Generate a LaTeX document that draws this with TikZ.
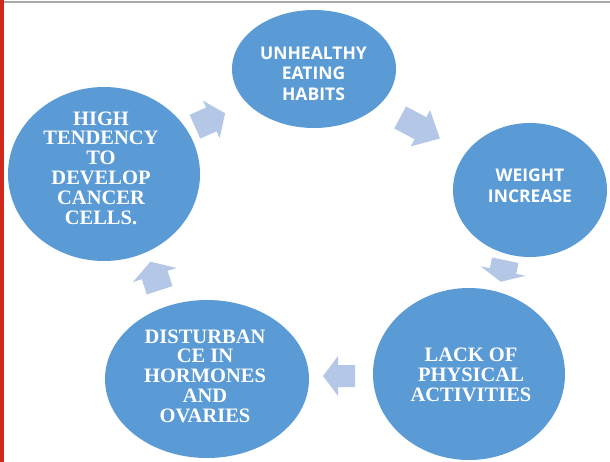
\documentclass[tikz,border=0pt]{standalone}
\usepackage{fontspec}
\setmainfont{Liberation Serif}
\newfontfamily\osans{Open Sans}
\usetikzlibrary{shapes.geometric}
\definecolor{cblue}{HTML}{5B9BD5}
\definecolor{ablue}{HTML}{B4C7E7}
\definecolor{redbar}{HTML}{D0281A}
\definecolor{topgray}{HTML}{A8A8A8}
\tikzset{
  bubble/.style={ellipse, fill=cblue, draw=none, inner sep=0pt},
  sanslabel/.style={text=white, align=center, inner sep=0pt,
    font=\osans\bfseries\fontsize{17.5}{20.5}\selectfont},
  seriflabel/.style={text=white, align=center, inner sep=0pt,
    font=\bfseries\fontsize{20.5}{19.8}\selectfont},
  arrowfill/.style={fill=ablue, draw=none}
}
% center x, center y, screen angle (clockwise), length, head width, body width, head length
\newcommand{\cycarrow}[7]{%
  \begin{scope}[shift={(#1,#2)}, rotate=-#3]
    \fill[arrowfill] (-#4/2,-#6/2) -- ({#4/2-#7},-#6/2) -- ({#4/2-#7},-#5/2)
      -- (#4/2,0) -- ({#4/2-#7},#5/2) -- ({#4/2-#7},#6/2) -- (-#4/2,#6/2) -- cycle;
  \end{scope}}
\begin{document}
\begin{tikzpicture}[x=1pt,y=-1pt]
\useasboundingbox (0,0) rectangle (610,462);
\fill[white] (0,0) rectangle (610,462);
\fill[redbar] (0,0) rectangle (4,462);
\fill[topgray] (4,1) rectangle (610,3.3);

% bubbles
\node[bubble, minimum width=164pt, minimum height=118pt] (c1) at (314,69) {};
\node[bubble, minimum width=154pt, minimum height=134pt] (c2) at (530,190) {};
\node[bubble, minimum width=192pt, minimum height=172pt] (c3) at (469,374) {};
\node[bubble, minimum width=204pt, minimum height=158pt] (c4) at (207,379) {};
\node[bubble, minimum width=192pt, minimum height=174pt] (c5) at (104,174) {};

% labels
\node[sanslabel] (t1) at (313.5,73.5) {UNHEALTHY\\EATING\\HABITS};
\node[sanslabel] (t2) at (530,185.5) {WEIGHT\\INCREASE};
\node[seriflabel] (t3) at (471,375) {LACK OF\\PHYSICAL\\ACTIVITIES};
\node[seriflabel] (t4) at (205,376) {DISTURBAN\\CE IN\\HORMONES\\AND\\OVARIES};
\node[seriflabel] (t5) at (101,168) {HIGH\\TENDENCY\\TO\\DEVELOP\\CANCER\\CELLS.};

% cycle arrows
\cycarrow{210}{120}{-24}{33}{41}{26}{15}
\cycarrow{420}{128}{28}{45}{41}{25}{22}
\cycarrow{503}{271}{102}{22}{46}{27}{11}
\cycarrow{339}{376}{180}{32}{40}{22}{15}
\cycarrow{155}{276}{-108}{30}{46}{27}{14}
\end{tikzpicture}
\end{document}
